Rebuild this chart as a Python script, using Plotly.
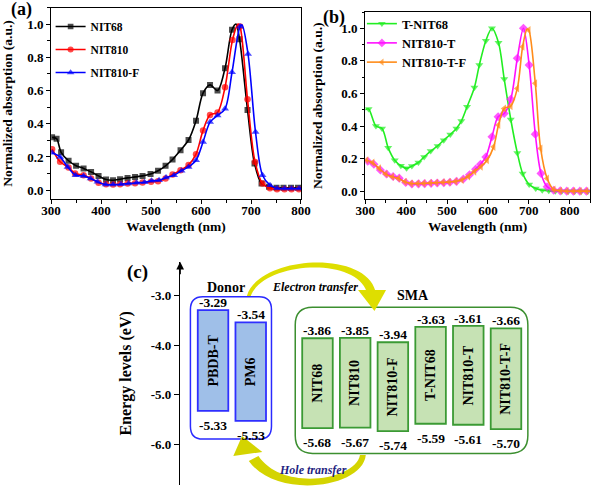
import plotly.graph_objects as go

W, H = 602, 487
FONT = "Liberation Serif, Times New Roman, Times, serif"

# ---------------- Panel (a) data ----------------
a_nit68_wl = [302, 311, 320, 335, 350, 365, 380, 395, 410, 424, 438, 453, 468, 483, 499, 514, 529, 543, 559,
              575, 590, 604, 618, 633, 648, 662, 670, 677, 693, 707, 721, 736, 751, 765, 780, 794, 800]
a_nit68 = [0.318, 0.31, 0.228, 0.177, 0.147, 0.131, 0.11, 0.086, 0.064, 0.06, 0.066, 0.074, 0.08, 0.086, 0.098,
           0.117, 0.147, 0.185, 0.241, 0.302, 0.418, 0.584, 0.634, 0.60, 0.734, 0.966, 1.0, 0.909, 0.483, 0.161,
           0.04, 0.02, 0.015, 0.015, 0.015, 0.015, 0.015]
a_nit68_unmarked = [670, 800]

a_nit810_wl = [302, 318, 335, 348, 365, 380, 395, 410, 424, 438, 453, 468, 483, 500, 514, 529, 543, 559, 575,
               590, 604, 618, 633, 648, 663, 674, 678, 693, 708, 723, 738, 752, 767, 781, 796, 800]
a_nit810 = [0.247, 0.171, 0.137, 0.10, 0.09, 0.07, 0.044, 0.036, 0.034, 0.036, 0.04, 0.042, 0.046, 0.05, 0.054,
            0.07, 0.095, 0.12, 0.152, 0.217, 0.36, 0.453, 0.468, 0.62, 0.905, 1.0, 0.985, 0.547, 0.17, 0.04,
            0.012, 0.005, 0.005, 0.005, 0.005, 0.005]
a_nit810_unmarked = [674, 800]

a_nit810f_wl = [302, 318, 333, 349, 365, 379, 393, 409, 424, 440, 455, 471, 487, 501, 516, 530, 546, 561, 575,
                590, 604, 618, 633, 648, 662, 678, 682, 694, 709, 723, 738, 752, 767, 781, 796, 800]
a_nit810f = [0.225, 0.2, 0.14, 0.09, 0.086, 0.07, 0.05, 0.034, 0.034, 0.036, 0.04, 0.044, 0.048, 0.056, 0.06,
             0.076, 0.09, 0.117, 0.14, 0.18, 0.29, 0.41, 0.45, 0.49, 0.71, 0.985, 0.995, 0.82, 0.35, 0.09, 0.03,
             0.012, 0.01, 0.01, 0.01, 0.01]
a_nit810f_unmarked = [682, 800]

# ---------------- Panel (b) data ----------------
b_tnit68_wl = [300, 308, 326, 341, 356, 372, 387, 401, 414, 430, 444, 460, 477, 492, 508, 523, 535, 549, 567,
               579, 595, 610, 626, 640, 656, 672, 685, 701, 717, 733, 749, 765, 781, 797, 813, 829, 845, 850]
b_tnit68 = [0.50, 0.505, 0.40, 0.385, 0.266, 0.19, 0.156, 0.14, 0.154, 0.176, 0.21, 0.246, 0.278, 0.313, 0.348,
            0.385, 0.43, 0.518, 0.637, 0.774, 0.924, 1.0, 0.911, 0.688, 0.44, 0.235, 0.109, 0.041, 0.017, 0.006,
            0.002, 0.0, 0.0, 0.0, 0.0, 0.0, 0.0, 0.0]
b_tnit68_unmarked = [300, 850]

b_nit810t_wl = [300, 306, 321, 337, 352, 368, 383, 399, 414, 430, 445, 461, 476, 492, 507, 523, 540, 555, 570,
                582, 595, 610, 625, 640, 656, 672, 687, 701, 716, 730, 745, 761, 777, 793, 809, 825, 841, 850]
b_nit810t = [0.19, 0.184, 0.165, 0.13, 0.105, 0.09, 0.08, 0.053, 0.044, 0.045, 0.046, 0.048, 0.05, 0.052, 0.055,
             0.06, 0.075, 0.1, 0.135, 0.165, 0.21, 0.334, 0.457, 0.477, 0.564, 0.816, 1.0, 0.774, 0.35, 0.109,
             0.027, 0.006, 0.002, 0.0, 0.0, 0.0, 0.0, 0.0]
b_nit810t_unmarked = [300, 850]

b_nit810tf_wl = [300, 303, 318, 334, 350, 366, 381, 397, 412, 428, 443, 459, 474, 490, 505, 521, 536, 552, 567,
                 583, 598, 614, 626, 640, 656, 672, 685, 696, 700, 716, 729, 745, 761, 777, 793, 809, 825, 841, 850]
b_nit810tf = [0.19, 0.19, 0.175, 0.14, 0.105, 0.088, 0.078, 0.057, 0.047, 0.047, 0.048, 0.05, 0.052, 0.054,
              0.056, 0.06, 0.068, 0.09, 0.12, 0.15, 0.19, 0.272, 0.406, 0.508, 0.522, 0.631, 0.887, 0.995, 0.99,
              0.662, 0.262, 0.078, 0.01, 0.003, 0.0, 0.0, 0.0, 0.0, 0.0]
b_nit810tf_unmarked = [300, 696, 850]

# ---------------- Panel (c) data ----------------
donors = ["PBDB-T", "PM6"]
donor_lumo = [-3.29, -3.54]
donor_homo = [-5.33, -5.53]
acceptors = ["NIT68", "NIT810", "NIT810-F", "T-NIT68", "NIT810-T", "NIT810-T-F"]
acc_lumo = [-3.86, -3.85, -3.94, -3.63, -3.61, -3.66]
acc_homo = [-5.68, -5.67, -5.74, -5.59, -5.61, -5.70]
energy_ticks = [-3.0, -4.0, -5.0, -6.0]


def P(x, y):
    """pixel -> paper coordinates string (decorations only)"""
    return f"{x / W:.5f},{1 - y / H:.5f}"


fig = go.Figure()


def add_series(x, y, name, color, symbol, size, xa, ya, legend, unmarked):
    sizes = [0 if v in unmarked else size for v in x]
    fig.add_trace(go.Scatter(
        x=x, y=y, mode="lines+markers", name=name,
        line=dict(color=color, width=1.6, shape="spline", smoothing=0.9),
        marker=dict(color=color, symbol=symbol, size=sizes, line=dict(width=0)),
        xaxis=xa, yaxis=ya, legend=legend, legendgroup=name, hoverinfo="skip"))


add_series(a_nit68_wl, a_nit68, "NIT68", "#000000", "square", 6, "x", "y", "legend", a_nit68_unmarked)
add_series(a_nit810_wl, a_nit810, "NIT810", "#ff0000", "circle", 6.5, "x", "y", "legend", a_nit810_unmarked)
add_series(a_nit810f_wl, a_nit810f, "NIT810-F", "#0000ff", "triangle-up", 7, "x", "y", "legend",
           a_nit810f_unmarked)

add_series(b_tnit68_wl, b_tnit68, "T-NIT68", "#22ee22", "triangle-down", 7, "x2", "y2", "legend2",
           b_tnit68_unmarked)
add_series(b_nit810t_wl, b_nit810t, "NIT810-T", "#ff11ff", "diamond", 7, "x2", "y2", "legend2",
           b_nit810t_unmarked)
add_series(b_nit810tf_wl, b_nit810tf, "NIT810-T-F", "#ff8c1a", "triangle-left", 7, "x2", "y2", "legend2",
           b_nit810tf_unmarked)

# ---- Panel (c): energy bars ----
GAP = 1.77
BAR_W = 0.81
donor_x = [1 + i for i in range(len(donors))]
acc_x = [donor_x[-1] + GAP + i for i in range(len(acceptors))]

fig.add_trace(go.Bar(
    x=donor_x, y=[l - h for l, h in zip(donor_lumo, donor_homo)], base=donor_homo, width=BAR_W,
    marker=dict(color="#9fbfe8", line=dict(color="#2f2fff", width=1.8)),
    xaxis="x3", yaxis="y3", showlegend=False, hoverinfo="skip"))
fig.add_trace(go.Bar(
    x=acc_x, y=[l - h for l, h in zip(acc_lumo, acc_homo)], base=acc_homo, width=BAR_W,
    marker=dict(color="#c6e2b4", line=dict(color="#3b9a34", width=1.8)),
    xaxis="x3", yaxis="y3", showlegend=False, hoverinfo="skip"))

all_x = donor_x + acc_x
all_lumo = donor_lumo + acc_lumo
all_homo = donor_homo + acc_homo
vfont = dict(family=FONT, size=13.5, color="black", weight="bold")

annotations = []
for xv, name, l, h in zip(all_x, donors + acceptors, all_lumo, all_homo):
    annotations.append(dict(x=xv, y=(l + h) / 2, xref="x3", yref="y3", text=name, showarrow=False,
                            textangle=-90, font=dict(family=FONT, size=14, color="black", weight="bold")))
    annotations.append(dict(x=xv, y=l, xref="x3", yref="y3", text=f"{l:.2f}", showarrow=False,
                            yanchor="bottom", yshift=-2, font=vfont))
    annotations.append(dict(x=xv, y=h, xref="x3", yref="y3", text=f"{h:.2f}", showarrow=False,
                            yanchor="top", yshift=-5, font=vfont))


def rounded(x0, x1, y0, y1, rx, ry):
    return (f"M {x0 + rx},{y0} L {x1 - rx},{y0} Q {x1},{y0} {x1},{y0 + ry} L {x1},{y1 - ry} "
            f"Q {x1},{y1} {x1 - rx},{y1} L {x0 + rx},{y1} Q {x0},{y1} {x0},{y1 - ry} L {x0},{y0 + ry} "
            f"Q {x0},{y0} {x0 + rx},{y0} Z")


shapes = [
    dict(type="path", xref="x3", yref="y3",
         path=rounded(min(donor_x) - 0.6, max(donor_x) + 0.55, min(donor_homo) - 0.37, max(donor_lumo) + 0.27,
                      0.33, 0.26),
         line=dict(color="#2a2aff", width=1.5)),
    dict(type="path", xref="x3", yref="y3",
         path=rounded(min(acc_x) - 0.59, max(acc_x) + 0.58, min(acc_homo) - 0.45, max(acc_lumo) + 0.38,
                      0.46, 0.36),
         line=dict(color="#3c8f30", width=1.5)),
    # upper yellow arrow (electron transfer)
    dict(type="path", xref="paper", yref="paper",
         path=f"M {P(245, 296)} C {P(257, 256)} {P(366, 249)} {P(378, 291)} L {P(369, 292)} "
              f"C {P(357, 256)} {P(262, 262)} {P(249, 296)} Z",
         fillcolor="#dede00", line=dict(width=0)),
    dict(type="path", xref="paper", yref="paper",
         path=f"M {P(360, 290)} L {P(389, 290)} L {P(377, 311)} Z",
         fillcolor="#dede00", line=dict(width=0)),
    # lower yellow arrow (hole transfer)
    dict(type="path", xref="paper", yref="paper",
         path=f"M {P(362, 455)} C {P(358, 480)} {P(282, 492)} {P(257, 456)} L {P(247, 461)} "
              f"C {P(276, 500)} {P(365, 488)} {P(368, 455)} Z",
         fillcolor="#d4d400", line=dict(width=0)),
    dict(type="path", xref="paper", yref="paper",
         path=f"M {P(231, 456)} L {P(261, 452)} L {P(240, 436)} Z",
         fillcolor="#d4d400", line=dict(width=0)),
]


def ann_px(x, y, text, size, **kw):
    f = dict(family=FONT, size=size, color=kw.pop("color", "black"), weight=kw.pop("weight", "bold"))
    if "style" in kw:
        f["style"] = kw.pop("style")
    annotations.append(dict(x=x / W, y=1 - y / H, xref="paper", yref="paper", text=text, showarrow=False,
                            font=f, xanchor="center", yanchor="middle", **kw))


ann_px(12, 10, "(a)", 18)
ann_px(335, 18, "(b)", 18)
ann_px(132, 272, "(c)", 19)
ann_px(223, 287, "Donor", 14)
ann_px(417, 295, "SMA", 14)
ann_px(315, 287, "Electron transfer", 12, style="italic")
ann_px(313, 470, "Hole transfer", 12, style="italic", color="#1f1f80")

# arrow head on energy axis
Y3_RANGE = [-6.83, -2.31]
X3_RANGE = [0.128, 9.974]
annotations.append(dict(x=X3_RANGE[0], y=Y3_RANGE[1], xref="x3", yref="y3", text="", showarrow=True,
                        ax=0, ay=14, arrowhead=2, arrowsize=1.1, arrowwidth=1.4, arrowcolor="black",
                        standoff=0))

tickf = dict(family=FONT, size=13, color="black", weight="bold")
titf = dict(family=FONT, size=13.5, color="black", weight="bold")
common = dict(showline=True, linecolor="black", linewidth=1.2, mirror=True, ticks="outside", ticklen=4,
              tickwidth=1.2, tickcolor="black", showgrid=False, zeroline=False, tickfont=tickf,
              title_font=titf)
xminor = dict(ticks="outside", ticklen=2.5, tickwidth=1, tickcolor="black", dtick=50, showgrid=False)
yminor = dict(ticks="outside", ticklen=2.5, tickwidth=1, tickcolor="black", dtick=0.1, showgrid=False)

fig.update_layout(
    width=W, height=H, margin=dict(l=0, r=0, t=0, b=0),
    paper_bgcolor="white", plot_bgcolor="rgba(0,0,0,0)", barmode="overlay",
    xaxis=dict(domain=[42.5 / W, 301 / W], range=[300, 800], dtick=100, anchor="y", minor=xminor,
               ticklabelstandoff=-5, title=dict(text="Wavelength (nm)", standoff=4), **common),
    yaxis=dict(domain=[1 - 199.3 / H, 1 - 7.5 / H], range=[-0.055, 1.1], dtick=0.2, tickformat=".1f",
               anchor="x", minor=yminor, title=dict(text="Normalized absorption (a.u.)"), **common),
    xaxis2=dict(domain=[367.5 / W, 600 / W], range=[300, 850], dtick=100, anchor="y2", minor=xminor,
                ticklabelstandoff=-5, title=dict(text="Wavelength (nm)", standoff=4), **common),
    yaxis2=dict(domain=[1 - 199.3 / H, 1 - 12 / H], range=[-0.05, 1.1], dtick=0.2, tickformat=".1f",
                anchor="x2", minor=yminor, title=dict(text="Normalized absorption (a.u.)"), **common),
    xaxis3=dict(domain=[176 / W, 560 / W], range=X3_RANGE, visible=False, anchor="y3"),
    yaxis3=dict(domain=[2 / H, 1 - 261.7 / H], range=Y3_RANGE, anchor="x3", showline=True, linecolor="black",
                linewidth=1.4, ticks="outside", ticklen=5, tickwidth=1.4, tickcolor="black",
                tickvals=energy_ticks, ticktext=[f"{t:.1f}" for t in energy_ticks], showgrid=False,
                zeroline=False, tickfont=dict(family=FONT, size=13, color="black", weight="bold"),
                title=dict(text="Energy levels (eV)",
                           font=dict(family=FONT, size=16, color="black", weight="bold"))),
    legend=dict(x=42 / W, y=1 - 12 / H, xanchor="left", yanchor="top", bgcolor="rgba(0,0,0,0)",
                font=dict(family=FONT, size=11.5, color="black", weight="bold"), tracegroupgap=4,
                itemwidth=30),
    legend2=dict(x=364 / W, y=1 - 9 / H, xanchor="left", yanchor="top", bgcolor="rgba(0,0,0,0)",
                 font=dict(family=FONT, size=12.5, color="black", weight="bold"), tracegroupgap=0,
                 itemwidth=30),
    shapes=shapes, annotations=annotations, showlegend=True,
)

fig.write_html("out.html", config={"displayModeBar": False},
               post_script="document.body.style.margin='0';document.body.style.padding='0';")
